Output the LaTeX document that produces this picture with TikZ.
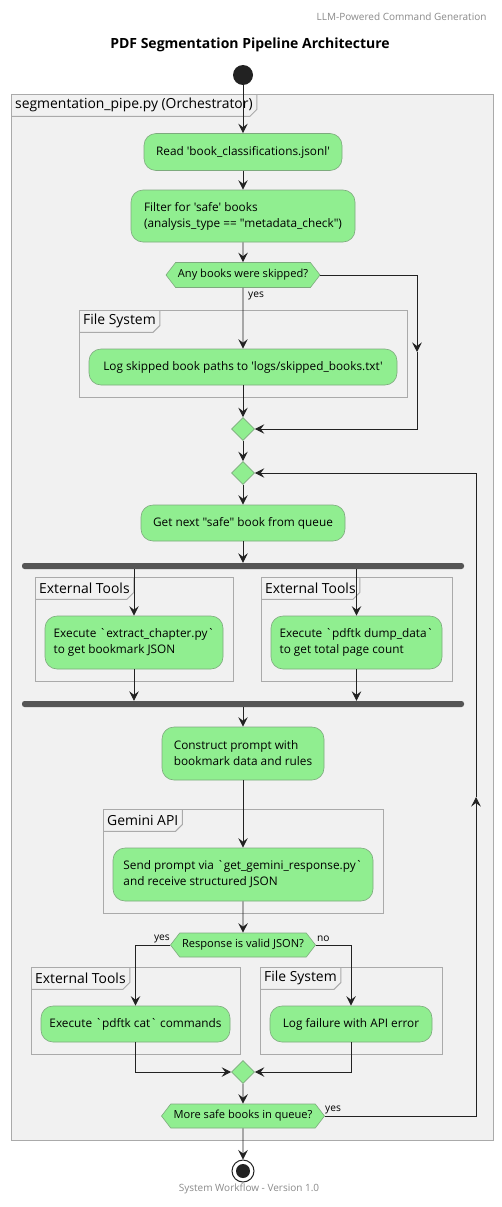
\documentclass[tikz,border=0pt]{standalone}
\usepackage{fontspec}
\setmainfont{Open Sans}[Ligatures=TeXOff]
\usetikzlibrary{shapes.geometric,shapes.symbols,arrows.meta}
\definecolor{nodefill}{HTML}{90EE90}
\definecolor{nodeline}{HTML}{7DAA7D}
\definecolor{framefill}{HTML}{F1F1F1}
\definecolor{frameline}{HTML}{AAAAAA}
\definecolor{lineclr}{HTML}{222222}
\definecolor{barclr}{HTML}{555555}
\definecolor{graytxt}{HTML}{8A8A8A}
\tikzset{
  act/.style={draw=nodeline, fill=nodefill, rounded corners=12pt, align=left,
    font=\fontsize{11.8}{16}\selectfont, inner sep=0pt, line width=0.6pt},
  decide/.style={shape=signal, signal to=east and west, signal pointer angle=105,
    draw=nodeline, fill=nodefill, font=\fontsize{11.1}{13}\selectfont, inner sep=0pt, line width=0.6pt},
  merge/.style={shape=diamond, draw=nodeline, fill=nodefill, minimum width=23pt, minimum height=23pt, inner sep=0pt, line width=0.6pt},
  bar/.style={fill=barclr, rounded corners=2.5pt, minimum height=6pt, inner sep=0pt},
  flow/.style={draw=lineclr, line width=0.9pt, -{Stealth[length=9.5pt,width=9.5pt,inset=3.5pt]}},
  framebox/.style={draw=frameline, fill=framefill, line width=1pt},
  tablabel/.style={anchor=north west, inner xsep=4pt, inner ysep=0pt, minimum height=22pt,
    font=\fontsize{13.9}{15}\selectfont},
  edgelbl/.style={font=\fontsize{10.2}{12}\selectfont, inner sep=0pt},
}
\newcommand{\pframe}[6]{% name, x1, y1, x2, y2, label
  \draw[framebox] (#2,#3) rectangle (#4,#5);
  \node[tablabel] (#1) at (#2,#3) {#6};
  \draw[draw=frameline, line width=1pt] (#1.south west) -- ([xshift=-7pt]#1.south east)
     -- ([yshift=7pt]#1.south east) -- (#1.north east);
}
\begin{document}
\begin{tikzpicture}[x=1pt,y=-1pt]
\useasboundingbox[fill=white] (0,0) rectangle (502,1207);

\node[anchor=east, text=graytxt, font=\fontsize{10}{11}\selectfont] (hdr) at (490,17) {LLM-Powered Command Generation};
\node[font=\bfseries\fontsize{14}{16}\selectfont] (title) at (250,45) {PDF Segmentation Pipeline Architecture};

\pframe{orch}{11}{94}{493}{1140}{segmentation\_pipe.py (Orchestrator)}
\pframe{fs1}{79}{310}{407}{397}{File System}
\pframe{et1}{35}{577}{233}{681}{External Tools}
\pframe{et2}{261}{577}{452}{681}{External Tools}
\pframe{gem}{103}{809}{383}{913}{Gemini API}
\pframe{et3}{31}{967}{240}{1054}{External Tools}
\pframe{fs2}{260}{967}{442}{1054}{File System}

\node[circle, fill=lineclr, minimum size=20pt, inner sep=0pt] (start) at (243,75) {};

\node[act, minimum width=198pt, minimum height=37pt] (read) at (243,152) {Read 'book\_classifications.jsonl'};
\node[act, minimum width=224pt, minimum height=52pt] (filter) at (243,216) {Filter for 'safe' books\\(analysis\_type == "metadata\_check")};
\node[decide, minimum width=154pt, minimum height=25pt] (dec1) at (243,275) {Any books were skipped?};
\node[act, minimum width=308pt, minimum height=36pt] (log) at (243,367) {Log skipped book paths to 'logs/skipped\_books.txt'};
\node[merge] (merge1) at (243,429) {};
\node[merge] (merge2) at (243,473) {};
\node[act, minimum width=204pt, minimum height=36pt] (getnext) at (243,523) {Get next "safe" book from queue};
\node[bar, minimum width=442pt] (fork) at (243,566) {};
\node[act, minimum width=178pt, minimum height=53pt] (extract) at (134,642.5) {Execute `extract\_chapter.py`\\to get bookmark JSON};
\node[act, minimum width=171pt, minimum height=53pt] (dump) at (356.5,642.5) {Execute `pdftk dump\_data`\\to get total page count};
\node[bar, minimum width=442pt] (join) at (243,704) {};
\node[act, minimum width=162pt, minimum height=53pt] (construct) at (243,753.5) {Construct prompt with\\bookmark data and rules};
\node[act, minimum width=260pt, minimum height=53pt] (send) at (243,874.5) {Send prompt via `get\_gemini\_response.py`\\and receive structured JSON};
\node[decide, minimum width=145pt, minimum height=24pt] (dec2) at (243,945) {Response is valid JSON?};
\node[act, minimum width=189pt, minimum height=36pt] (pdftk) at (135.5,1024) {Execute `pdftk cat` commands};
\node[act, minimum width=162pt, minimum height=36pt] (logfail) at (351,1024) {Log failure with API error};
\node[merge] (merge3) at (243,1072) {};
\node[decide, minimum width=163pt, minimum height=24pt] (dec3) at (243,1116) {More safe books in queue?};
\node[circle, draw=lineclr, fill=white, line width=1pt, minimum size=22pt, inner sep=0pt] (stop) at (243,1171) {};
\node[circle, fill=lineclr, minimum size=14pt, inner sep=0pt] (stopdot) at (243,1171) {};

\node[text=graytxt, font=\fontsize{10}{11}\selectfont] (ftr) at (249,1189) {System Workflow - Version 1.0};

% connectors
\draw[flow] (start) -- (read);
\draw[flow] (read) -- (filter);
\draw[flow] (filter) -- (dec1);
\draw[flow] (dec1) -- (log);
\node[edgelbl, anchor=west] (yes1) at (248,296) {yes};
\draw[flow] (log) -- (merge1);
\coordinate (r1) at (417,352);
\draw[flow] (dec1.east) -| (r1);
\draw[flow] (r1) |- (merge1.east);
\draw[flow] (merge1) -- (merge2);
\draw[flow] (merge2) -- (getnext);
\draw[flow] (getnext) -- (fork);
\draw[flow] (fork.south -| extract.north) -- (extract.north);
\draw[flow] (fork.south -| dump.north) -- (dump.north);
\draw[flow] (extract.south) -- (extract.south |- join.north);
\draw[flow] (dump.south) -- (dump.south |- join.north);
\draw[flow] (join) -- (construct);
\draw[flow] (construct) -- (send);
\draw[flow] (send) -- (dec2);
\draw[flow] (dec2.west) -| (pdftk.north);
\draw[flow] (dec2.east) -| (logfail.north);
\node[edgelbl, anchor=east] (yes2) at (170,939) {yes};
\node[edgelbl, anchor=west] (no2) at (317,939) {no};
\draw[flow] (pdftk.south) |- (merge3.west);
\draw[flow] (logfail.south) |- (merge3.east);
\draw[flow] (merge3) -- (dec3);
\draw[flow] (dec3) -- (stop);
\coordinate (r2) at (476,797);
\draw[flow] (dec3.east) -| (r2);
\draw[flow] (r2) |- (merge2.east);
\node[edgelbl, anchor=west] (yes3) at (325,1110) {yes};
\end{tikzpicture}
\end{document}
